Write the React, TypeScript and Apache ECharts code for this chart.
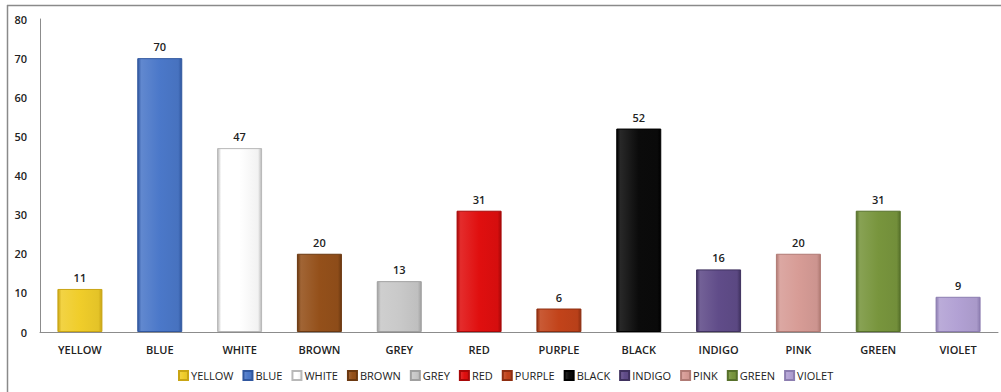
import React, { useEffect, useRef } from "react";
import * as echarts from "echarts";

const categories = ["YELLOW", "BLUE", "WHITE", "BROWN", "GREY", "RED", "PURPLE", "BLACK", "INDIGO", "PINK", "GREEN", "VIOLET"];
const values = [11, 70, 47, 20, 13, 31, 6, 52, 16, 20, 31, 9];
const barColors = ["#F0CD2A", "#4B78C9", "#FFFFFF", "#94501A", "#C9C9C9", "#E00F0F", "#C2431A", "#0B0B0B", "#604C89", "#D79C96", "#78953D", "#B2A1D4"];
const edgeColors = ["#C9A514", "#30579F", "#B8B8B8", "#6B3810", "#A0A0A0", "#A80808", "#8E2E10", "#000000", "#3F315F", "#B07A74", "#56702A", "#8C7DB0"];

const FONT = "'Open Sans', 'DejaVu Sans', sans-serif";

function shade(hex: string, amt: number): string {
  const n = parseInt(hex.slice(1), 16);
  let r = (n >> 16) & 255, g = (n >> 8) & 255, b = n & 255;
  const f = (c: number) => Math.max(0, Math.min(255, Math.round(amt >= 0 ? c + (255 - c) * amt : c * (1 + amt))));
  r = f(r); g = f(g); b = f(b);
  return "#" + ((1 << 24) | (r << 16) | (g << 8) | b).toString(16).slice(1);
}

// Horizontal gradient giving each bar a bevelled look
function bevel(i: number) {
  const c = barColors[i];
  const e = edgeColors[i];
  return new echarts.graphic.LinearGradient(0, 0, 1, 0, [
    { offset: 0, color: e },
    { offset: 0.08, color: shade(c, 0.12) },
    { offset: 0.5, color: c },
    { offset: 0.92, color: shade(c, -0.05) },
    { offset: 1, color: e },
  ]);
}

export default function App() {
  const ref = useRef<HTMLDivElement>(null);
  useEffect(() => {
    if (!ref.current) return;
    const chart = echarts.init(ref.current, undefined, { renderer: "svg" });
    const series = categories.map((name, i) => ({
      name,
      type: "bar",
      stack: "total",
      barWidth: 45,
      data: values.map((v, j) => (j === i ? v : null)),
      itemStyle: {
        color: bevel(i),
        borderColor: edgeColors[i],
        borderWidth: 1,
      },
      label: {
        show: true,
        position: "top",
        distance: 6,
        color: "#222",
        fontFamily: FONT,
        fontSize: 11,
        fontWeight: 600,
        formatter: (p: any) => (p.value == null ? "" : String(p.value)),
      },
    }));
    chart.setOption({
      animation: false,
      backgroundColor: "#fff",
      grid: { left: 40, right: 3, top: 19, bottom: 60 },
      legend: {
        bottom: 6,
        left: 173,
        itemWidth: 9,
        itemHeight: 9,
        itemGap: 9,
        icon: "rect",
        textStyle: { fontFamily: FONT, fontSize: 11, color: "#222", padding: [0, 0, 0, -2] },
        data: categories,
      },
      xAxis: {
        type: "category",
        data: categories,
        axisLine: { lineStyle: { color: "#8C8C8C", width: 1 } },
        axisTick: { show: false },
        axisLabel: { fontFamily: FONT, fontSize: 11, color: "#222", margin: 12, fontWeight: 600 },
      },
      yAxis: {
        type: "value",
        min: 0,
        max: 80,
        interval: 10,
        splitLine: { show: false },
        axisLine: { show: true, lineStyle: { color: "#8C8C8C", width: 1 } },
        axisTick: { show: false },
        axisLabel: { fontFamily: FONT, fontSize: 11, color: "#222", margin: 13, fontWeight: 600 },
      },
      graphic: [
        { type: "line", shape: { x1: 7, y1: 5.5, x2: 1001, y2: 5.5 }, style: { stroke: "#8A8A8A", lineWidth: 1.5 } },
        { type: "line", shape: { x1: 7.5, y1: 5, x2: 7.5, y2: 392 }, style: { stroke: "#8A8A8A", lineWidth: 1.5 } },
      ],
      series,
    });
    return () => chart.dispose();
  }, []);
  return (
    <div
      ref={ref}
      style={{ position: "fixed", left: 0, top: 0, width: 1001, height: 392 }}
    />
  );
}
